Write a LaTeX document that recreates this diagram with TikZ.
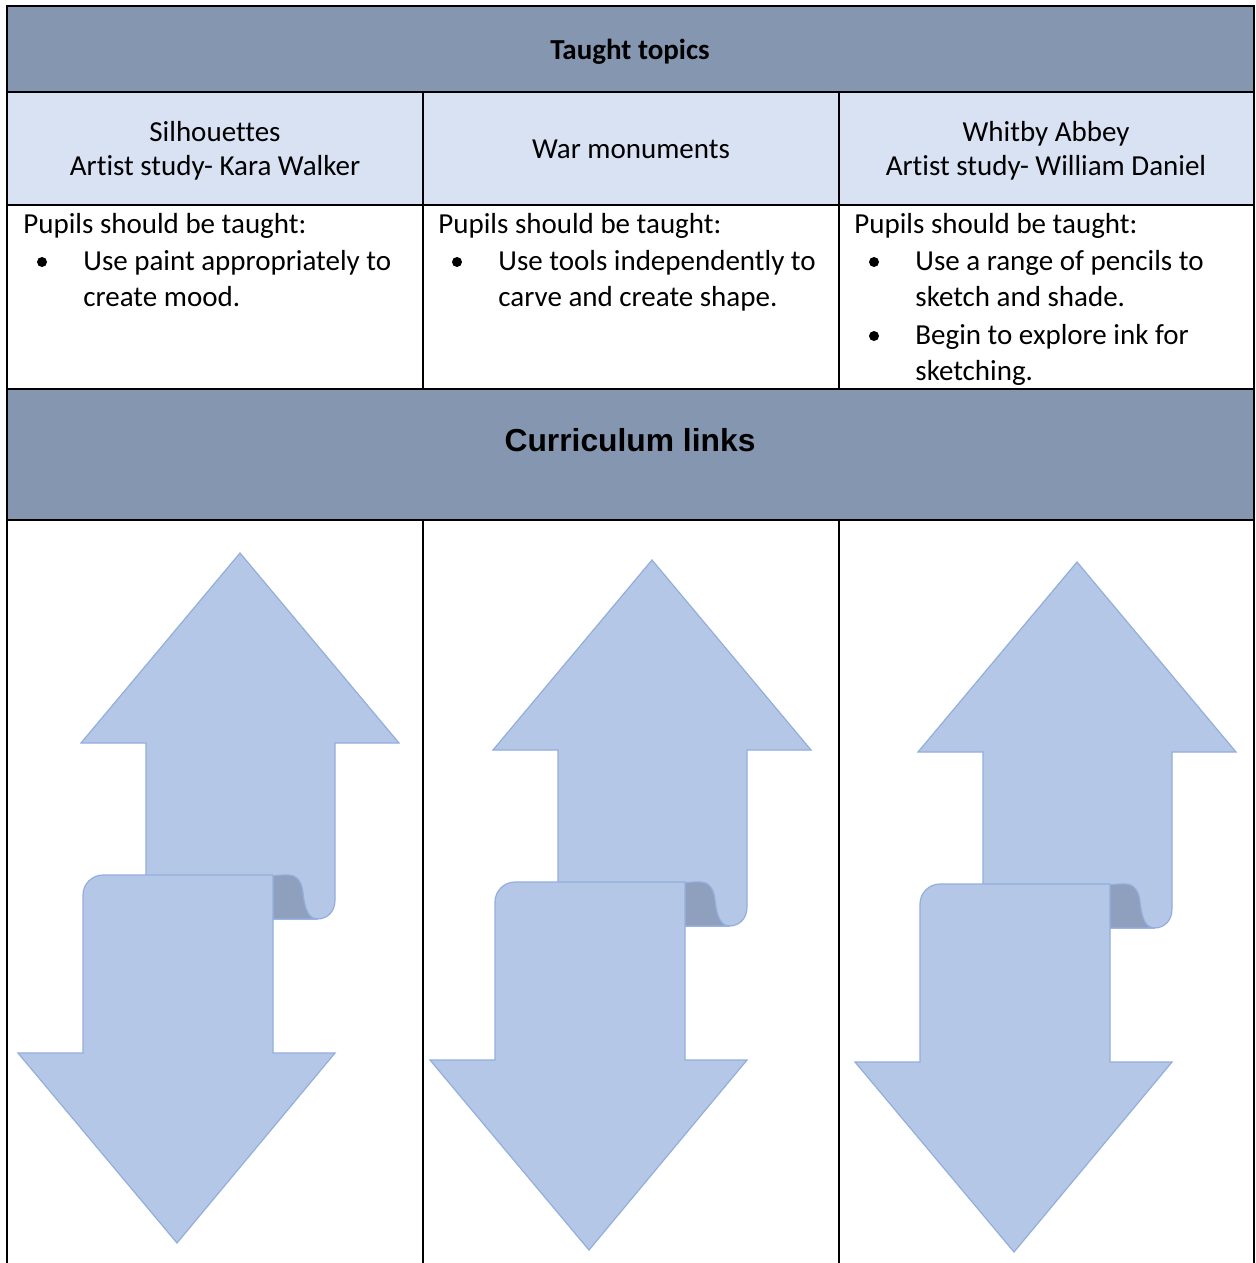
\documentclass[tikz,border=0pt]{standalone}
\usepackage{fontspec}
\setmainfont{Carlito}[Ligatures={NoCommon}]
\newfontfamily\bandfont{Liberation Sans}
\definecolor{bandgrey}{HTML}{8496B0}
\definecolor{palehead}{HTML}{D9E2F3}
\definecolor{arrowfill}{HTML}{B4C7E7}
\definecolor{arrowline}{HTML}{93AEDD}
\definecolor{curlshade}{HTML}{8FA0BE}
\begin{document}
\begin{tikzpicture}[x=0.5pt,y=-0.5pt,
  rule/.style={line width=1.15pt,black},
  body/.style={font=\fontsize{14.5}{18}\selectfont,inner sep=0pt,text=black},
  bodybold/.style={body,font=\fontsize{14.5}{18}\selectfont\bfseries},
  bandtitle/.style={inner sep=0pt,font=\bandfont\fontsize{15.9}{19}\selectfont\bfseries},
  bulletdot/.style={fill=black},
  arrowpart/.style={fill=arrowfill,draw=arrowline,line width=0.6pt,line join=miter},
  curlpart/.style={fill=curlshade,draw=arrowline,line width=0.6pt},
  scrollarrow/.pic={
    % upper arrow with its curled tail
    \path[arrowpart] (240,553) -- (399,743) -- (335,743) -- (335,900)
      .. controls (335,911) and (328,919) .. (317,919) -- (146,919)
      -- (146,743) -- (81,743) -- cycle;
    \path[curlpart] (273,919) -- (273,876)
      .. controls (278,875) and (283,875) .. (288,875)
      .. controls (297,875) and (302,882) .. (303,893)
      .. controls (305,911) and (309,919) .. (318,919) -- cycle;
    % lower arrow, lying over the fold
    \path[arrowpart] (273,875) -- (273,1053) -- (335,1053) -- (177,1243)
      -- (18,1053) -- (83,1053) -- (83,895)
      .. controls (83,884) and (92,875) .. (103,875) -- cycle;
  }]
\useasboundingbox (0,0) rectangle (1255,1263);

% cell shading
\fill[bandgrey] (7,6) rectangle (1254,92);
\fill[palehead] (7,92) rectangle (1254,205);
\fill[bandgrey] (7,389) rectangle (1254,520);

% up/down arrows in the last row
\pic at (0,0) {scrollarrow};
\pic at (412,7) {scrollarrow};
\pic at (837,9) {scrollarrow};

% table rules
\draw[rule] (7,1270) -- (7,6) -- (1254,6) -- (1254,1270);
\foreach \yy in {92,205,389,520} \draw[rule] (7,\yy) -- (1254,\yy);
\foreach \xx in {423,839} {
  \draw[rule] (\xx,92) -- (\xx,389);
  \draw[rule] (\xx,520) -- (\xx,1270);
}

% headings
\node[bodybold,anchor=base] (taught) at (630,60) {Taught topics};
\node[bandtitle,anchor=base] (links) at (630,451) {Curriculum links};

% topic titles
\node[body,anchor=base] (t1a) at (215,141) {Silhouettes};
\node[body,anchor=base] (t1b) at (215,176) {Artist study- Kara Walker};
\node[body,anchor=base] (t2a) at (631,158) {War monuments};
\node[body,anchor=base] (t3a) at (1046,141) {Whitby Abbey};
\node[body,anchor=base] (t3b) at (1046,176) {Artist study- William Daniel};

% column 1 content
\node[body,anchor=base west] (p1) at (23,233) {Pupils should be taught:};
\fill[bulletdot] (42,262) circle (5);
\node[body,anchor=base west] (p1a) at (83,270) {Use paint appropriately to};
\node[body,anchor=base west] (p1b) at (83,306) {create mood.};

% column 2 content
\node[body,anchor=base west] (p2) at (438,233) {Pupils should be taught:};
\fill[bulletdot] (457,262) circle (5);
\node[body,anchor=base west] (p2a) at (498,270) {Use tools independently to};
\node[body,anchor=base west] (p2b) at (498,306) {carve and create shape.};

% column 3 content
\node[body,anchor=base west] (p3) at (854,233) {Pupils should be taught:};
\fill[bulletdot] (874,262) circle (5);
\node[body,anchor=base west] (p3a) at (915,270) {Use a range of pencils to};
\node[body,anchor=base west] (p3b) at (915,306) {sketch and shade.};
\fill[bulletdot] (874,336) circle (5);
\node[body,anchor=base west] (p3c) at (915,344) {Begin to explore ink for};
\node[body,anchor=base west] (p3d) at (915,380) {sketching.};
\end{tikzpicture}
\end{document}
